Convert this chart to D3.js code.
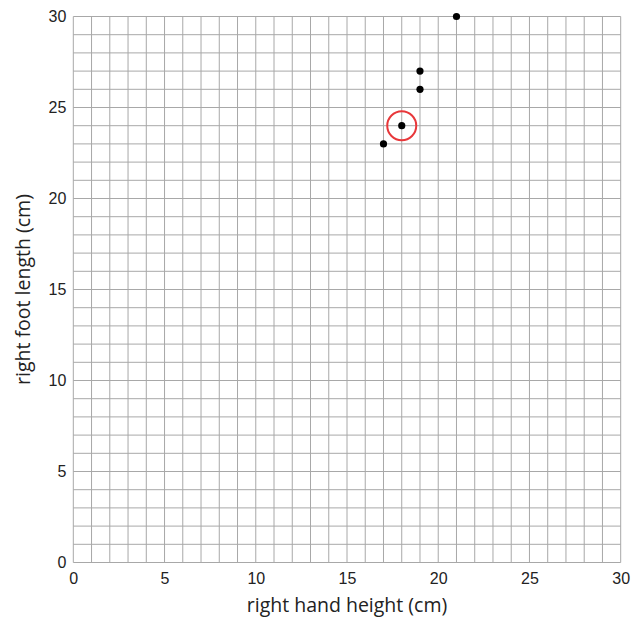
<!DOCTYPE html>
<meta charset="utf-8">
<style>
body{
  margin: 0;
  background: white;
  font-family: "Open Sans", "Noto Sans", sans-serif;
}
.grid line{
  stroke: #a8a8a8;
  stroke-width: 1;
}
.tick text{
  font-size: 16px;
  fill: #222;
}
.label{
  font-size: 19.5px;
  fill: #222;
}
</style>
<body>
<div id='graph'></div>
<script src="https://cdn.jsdelivr.net/npm/d3@7"></script>
<script>

var handHeight = [17, 18, 19, 19, 21]
var footLength = [23, 24, 26, 27, 30]
var circled = [18, 24]
var xTicks = [0, 5, 10, 15, 20, 25, 30]
var yTicks = [0, 5, 10, 15, 20, 25, 30]

var width = 631,
    height = 618,
    margin = {left: 73.3, right: 10.3, top: 16.5, bottom: 55.5}

var svg = d3.select('#graph')
  .append('svg')
    .attr('width', width)
    .attr('height', height)

var x = d3.scaleLinear().domain([0, 30]).range([margin.left, width - margin.right])
var y = d3.scaleLinear().domain([0, 30]).range([height - margin.bottom, margin.top])

var grid = svg.append('g').attr('class', 'grid')

grid.selectAll('.v').data(d3.range(0, 31)).enter().append('line')
    .attr('x1', d => x(d)).attr('x2', d => x(d))
    .attr('y1', y(0)).attr('y2', y(30))

grid.selectAll('.h').data(d3.range(0, 31)).enter().append('line')
    .attr('y1', d => y(d)).attr('y2', d => y(d))
    .attr('x1', x(0)).attr('x2', x(30))

svg.append('g')
    .attr('transform', 'translate(0,' + y(0) + ')')
    .call(d3.axisBottom(x).tickValues(xTicks).tickSize(0).tickPadding(10))
    .call(g => g.select('.domain').remove())

svg.append('g')
    .attr('transform', 'translate(' + x(0) + ',0)')
    .call(d3.axisLeft(y).tickValues(yTicks).tickSize(0).tickPadding(7))
    .call(g => g.select('.domain').remove())

svg.selectAll('.tick text').attr('font-family', null)

svg.append('text')
    .attr('class', 'label')
    .attr('x', (x(0) + x(30)) / 2)
    .attr('y', 612)
    .attr('text-anchor', 'middle')
    .text('right hand height (cm)')

svg.append('text')
    .attr('class', 'label')
    .attr('transform', 'translate(30,' + (y(0) + y(30)) / 2 + ') rotate(-90)')
    .attr('text-anchor', 'middle')
    .text('right foot length (cm)')

svg.append('circle')
    .attr('cx', x(circled[0]))
    .attr('cy', y(circled[1]))
    .attr('r', 14.5)
    .attr('fill', 'none')
    .attr('stroke', '#e8373a')
    .attr('stroke-width', 2)

svg.selectAll('.dot').data(handHeight).enter().append('circle')
    .attr('cx', d => x(d))
    .attr('cy', (d, i) => y(footLength[i]))
    .attr('r', 3.6)
    .attr('fill', '#000')

</script>
